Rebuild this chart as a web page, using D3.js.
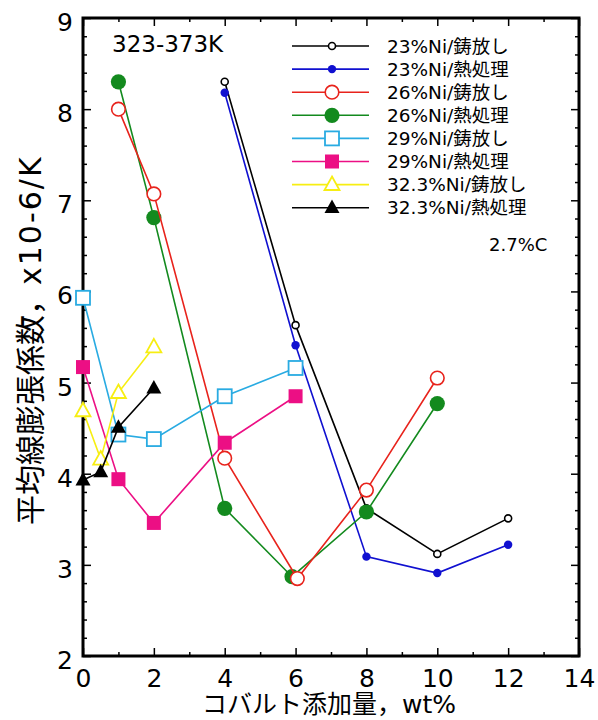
<!DOCTYPE html>
<html>
<head>
<meta charset="utf-8">
<script src="https://cdn.jsdelivr.net/npm/d3@7"></script>
<style>
  body { margin: 0; background: #fff; }
  svg text { font-family: "DejaVu Sans", "Noto Sans CJK JP", sans-serif; fill: #000; }
</style>
</head>
<body>
<svg id="svg"></svg>
<script>
// Data (x = Co wt%, y = mean CTE x10-6/K)
const xTicks = [0, 2, 4, 6, 8, 10, 12, 14];
const yTicks = [2, 3, 4, 5, 6, 7, 8, 9];

const ni23CastX = [4, 6, 8, 10, 12];
const ni23CastY = [8.30, 5.63, 3.62, 3.12, 3.51];
const ni23HeatX = [4, 6, 8, 10, 12];
const ni23HeatY = [8.18, 5.41, 3.09, 2.91, 3.22];
const ni26CastX = [1, 2, 4, 6.05, 8, 10];
const ni26CastY = [8.00, 7.07, 4.17, 2.85, 3.82, 5.05];
const ni26HeatX = [1, 2, 4, 5.9, 8, 10];
const ni26HeatY = [8.30, 6.81, 3.62, 2.87, 3.58, 4.77];
const ni29CastX = [0, 1, 2, 4, 6];
const ni29CastY = [5.93, 4.43, 4.38, 4.85, 5.16];
const ni29HeatX = [0, 1, 2, 4, 6];
const ni29HeatY = [5.17, 3.94, 3.46, 4.34, 4.85];
const ni32CastX = [0, 0.5, 1, 2];
const ni32CastY = [4.69, 4.16, 4.89, 5.39];
const ni32HeatX = [0, 0.5, 1, 2];
const ni32HeatY = [3.93, 4.02, 4.51, 4.94];

const labels = ["23%Ni/鋳放し", "23%Ni/熱処理", "26%Ni/鋳放し", "26%Ni/熱処理",
                "29%Ni/鋳放し", "29%Ni/熱処理", "32.3%Ni/鋳放し", "32.3%Ni/熱処理"];

// style per series
const series = [
    { name: labels[0], xs: ni23CastX, ys: ni23CastY, color: "#000000", shape: "circle", r: 3.5, open: true },
    { name: labels[1], xs: ni23HeatX, ys: ni23HeatY, color: "#1010d0", shape: "circle", r: 4.2, open: false },
    { name: labels[2], xs: ni26CastX, ys: ni26CastY, color: "#e8231c", shape: "circle", r: 6.8, open: true },
    { name: labels[3], xs: ni26HeatX, ys: ni26HeatY, color: "#138a1e", shape: "circle", r: 7.6, open: false },
    { name: labels[4], xs: ni29CastX, ys: ni29CastY, color: "#29abe2", shape: "square", r: 7, open: true },
    { name: labels[5], xs: ni29HeatX, ys: ni29HeatY, color: "#ec0f84", shape: "square", r: 7, open: false },
    { name: labels[6], xs: ni32CastX, ys: ni32CastY, color: "#f7ee12", shape: "triangle", r: 7.5, open: true },
    { name: labels[7], xs: ni32HeatX, ys: ni32HeatY, color: "#000000", shape: "triangle", r: 7.5, open: false }
];

let width = 598, height = 720;

const svg = d3.select("#svg").attr("width", width).attr("height", height);

const x = d3.scaleLinear().domain([0, 14]).range([83, 579]);
const y = d3.scaleLinear().domain([2, 9]).range([656, 18]);

// ticks
const gAxes = svg.append("g");

gAxes.append("g")
    .attr("transform", "translate(0," + y(2) + ")")
    .call(d3.axisBottom(x).tickValues(xTicks).tickSizeInner(-8).tickSizeOuter(0).tickPadding(13))
    .call(g => g.selectAll("text").attr("font-size", 25));

gAxes.append("g")
    .attr("transform", "translate(0," + y(2) + ")")
    .call(d3.axisBottom(x).tickValues([1, 3, 5, 7, 9, 11, 13]).tickSizeInner(-4).tickSizeOuter(0).tickFormat(""));

gAxes.append("g")
    .attr("transform", "translate(0," + y(9) + ")")
    .call(d3.axisTop(x).tickValues(xTicks).tickSizeInner(-8).tickSizeOuter(0).tickFormat(""));

gAxes.append("g")
    .attr("transform", "translate(0," + y(9) + ")")
    .call(d3.axisTop(x).tickValues([1, 3, 5, 7, 9, 11, 13]).tickSizeInner(-4).tickSizeOuter(0).tickFormat(""));

const yMinor = d3.range(2, 9.001, 0.2).filter(v => Math.abs(v - Math.round(v)) > 0.01);

gAxes.append("g")
    .attr("transform", "translate(" + x(0) + ",0)")
    .call(d3.axisLeft(y).tickValues(yTicks).tickFormat(d3.format("d"))
        .tickSizeInner(-8).tickSizeOuter(0).tickPadding(10))
    .call(g => g.selectAll("text").attr("font-size", 25).attr("dy", "0.5em"));

gAxes.append("g")
    .attr("transform", "translate(" + x(0) + ",0)")
    .call(d3.axisLeft(y).tickValues(yMinor).tickSizeInner(-4).tickSizeOuter(0).tickFormat(""));

gAxes.append("g")
    .attr("transform", "translate(" + x(14) + ",0)")
    .call(d3.axisRight(y).tickValues(yTicks).tickSizeInner(-8).tickSizeOuter(0).tickFormat(""));

gAxes.append("g")
    .attr("transform", "translate(" + x(14) + ",0)")
    .call(d3.axisRight(y).tickValues(yMinor).tickSizeInner(-4).tickSizeOuter(0).tickFormat(""));

gAxes.selectAll(".domain").remove();
gAxes.selectAll(".tick line").attr("stroke", "#000").attr("stroke-width", 1.5);
gAxes.selectAll(".tick text").attr("font-family", null);

// frame
svg.append("rect")
    .attr("x", x(0)).attr("y", y(9))
    .attr("width", x(14) - x(0)).attr("height", y(2) - y(9))
    .attr("fill", "none").attr("stroke", "#000").attr("stroke-width", 3);

// marker drawing
function drawMarker(g, s, cx, cy) {
    const fill = s.open ? "#fff" : s.color;
    if (s.shape === "circle") {
        g.append("circle").attr("cx", cx).attr("cy", cy).attr("r", s.r)
            .attr("fill", fill).attr("stroke", s.color).attr("stroke-width", s.open ? 1.6 : 0);
    } else if (s.shape === "square") {
        g.append("rect").attr("x", cx - s.r).attr("y", cy - s.r)
            .attr("width", 2 * s.r).attr("height", 2 * s.r)
            .attr("fill", fill).attr("stroke", s.color).attr("stroke-width", s.open ? 1.8 : 0);
    } else {
        const h = s.r * 1.8;
        const pts = [[cx, cy - h * 0.6], [cx + s.r, cy + h * 0.4], [cx - s.r, cy + h * 0.4]];
        g.append("path").attr("d", "M" + pts.join("L") + "Z")
            .attr("fill", fill).attr("stroke", s.color).attr("stroke-width", s.open ? 1.8 : 0);
    }
}

const line = d3.line().x(d => x(d[0])).y(d => y(d[1]));

// draw order: red open circles sit on top of green dots
const order = [0, 1, 3, 2, 4, 5, 6, 7];
order.forEach(i => {
    const s = series[i];
    const pts = s.xs.map((v, k) => [v, s.ys[k]]);
    const g = svg.append("g");
    g.append("path").attr("d", line(pts))
        .attr("fill", "none").attr("stroke", s.color).attr("stroke-width", 1.6);
    pts.forEach(p => drawMarker(g, s, x(p[0]), y(p[1])));
});

// legend
const legend = svg.append("g");
series.forEach((s, i) => {
    const ly = 46 + i * 23.1;
    legend.append("line").attr("x1", 292).attr("x2", 369).attr("y1", ly).attr("y2", ly)
        .attr("stroke", s.color).attr("stroke-width", 1.6);
    drawMarker(legend, s, 332, ly);
    legend.append("text").attr("x", 387).attr("y", ly).attr("dy", "0.36em")
        .attr("font-size", 18.5).text(s.name);
});

// annotations
svg.append("text").attr("x", 112).attr("y", 52).attr("font-size", 23).text("323-373K");
svg.append("text").attr("x", 489).attr("y", 251).attr("font-size", 18).text("2.7%C");

// axis titles
svg.append("text").attr("x", 329).attr("y", 713).attr("text-anchor", "middle")
    .attr("font-size", 25).text("コバルト添加量，wt%");

const yTitle = svg.append("text")
    .attr("transform", "translate(41,525) rotate(-90)")
    .attr("text-anchor", "start")
    .attr("font-size", 30);
yTitle.append("tspan").text("平均線膨張係数，");
yTitle.append("tspan").attr("letter-spacing", 2).text("x10-6/K");
</script>
</body>
</html>
